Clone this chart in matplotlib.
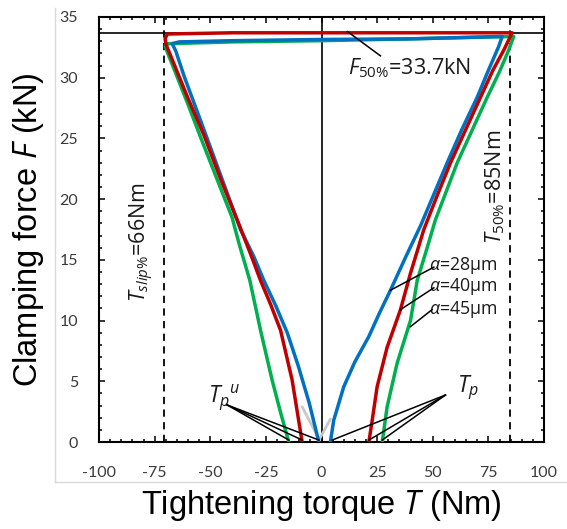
import matplotlib
matplotlib.use("Agg")
import matplotlib.pyplot as plt
from matplotlib.ticker import MultipleLocator
from matplotlib.lines import Line2D

plt.rcParams['mathtext.fontset'] = 'custom'
plt.rcParams['mathtext.rm'] = 'Open Sans'
plt.rcParams['mathtext.it'] = 'Open Sans:italic'
plt.rcParams['axes.unicode_minus'] = False

# ---------------- data ----------------
blue_T = [4.0, 5.5, 7.8, 10.0, 15.0, 21.3, 26.0, 31.0, 38.0, 44.5, 50.5, 56.5, 63.0, 70.0, 75.0, 79.7, 81.2,
          40, 0, -40, -64, -67.1, -65.5, -61.5, -53, -45, -36.4, -30.5, -25.9, -20.5, -15.4, -10.5, -5.5, -1.2]
blue_F = [0, 1.8, 3.2, 4.55, 6.6, 8.7, 10.6, 12.5, 15.3, 17.8, 20.4, 23.0, 25.7, 28.4, 30.6, 32.6, 33.4,
          33.2, 33.15, 33.05, 32.95, 32.8, 32.2, 30.0, 25.8, 21.8, 17.5, 15.3, 13.3, 11.2, 9.0, 6.3, 3.2, 0]

red_T = [21.3, 22.8, 25.0, 29.5, 35.5, 40.0, 46.0, 52.0, 58.0, 65.0, 71.5, 77.0, 82.0, 85.7,
         40, 0, -40, -69.3, -70.3, -69.8, -66, -60, -52.9, -45, -37.9, -31.5, -27.4, -22.8, -18.4, -13.2, -8.7]
red_F = [0, 1.8, 4.55, 7.8, 10.9, 13.9, 17.5, 20.3, 23.0, 25.8, 28.4, 30.6, 32.3, 33.7,
         33.7, 33.7, 33.7, 33.6, 33.2, 32.7, 31.0, 28.3, 25.3, 21.5, 18.3, 15.3, 13.3, 11.3, 9.2, 5.1, 0]

green_T = [27.3, 29.5, 34.0, 40.0, 42.2, 43.0, 47.0, 51.2, 56.0, 61.0, 68.0, 74.5, 80.0, 84.2, 86.4,
           40, 0, -40, -69.0, -70.2, -69.5, -66, -60, -53.5, -46, -40.2, -37.0, -32.2, -27.4, -22.2, -18.5, -14.7]
green_F = [0, 2.9, 6.5, 10.0, 12.4, 13.3, 15.7, 18.3, 20.6, 23.0, 25.8, 28.4, 30.5, 32.3, 33.4,
           33.2, 33.05, 32.95, 32.8, 32.6, 32.2, 30.6, 27.8, 24.7, 21.2, 18.5, 16.3, 13.3, 9.2, 5.1, 2.5, 0]

gray_T = [-8.7, -1.0, 4.0]
gray_F = [2.9, 0.2, 1.9]

F50 = 33.7
T_slip_pos = -70.7
T_50_pos = 84.8

x_ticks = [-100, -75, -50, -25, 0, 25, 50, 75, 100]
y_ticks = [0, 5, 10, 15, 20, 25, 30, 35]

# ---------------- figure ----------------
fig = plt.figure(figsize=(5.67, 5.29), dpi=100)
ax = fig.add_axes([99/567, 1-442/529, (544-99)/567, (442-17)/529])

# light frame (plot area border)
fig.add_artist(Line2D([55/567, 55/567], [1-8/529, 1-482/529], color='#d9d9d9', lw=1))
fig.add_artist(Line2D([55/567, 1.0], [1-482/529, 1-482/529], color='#d9d9d9', lw=1))

ax.set_xlim(-100, 100)
ax.set_ylim(0, 35)

ax.axhline(F50, color='black', lw=1.2, zorder=2)
ax.axvline(0, color='black', lw=1.2, zorder=2)
ax.axvline(T_slip_pos, color='black', lw=1.3, ls=(0, (4, 3)), zorder=2)
ax.axvline(T_50_pos, color='black', lw=1.3, ls=(0, (4, 3)), zorder=2)

lw = 2.5
ax.plot(gray_T, gray_F, color='#c8c8c8', lw=2.0, zorder=3, solid_capstyle='round')
ax.plot(green_T, green_F, color='#00B050', lw=lw, zorder=4, solid_joinstyle='round')
ax.plot(blue_T, blue_F, color='#0070C0', lw=lw, zorder=5, solid_joinstyle='round')
ax.plot(red_T, red_F, color='#C00000', lw=lw, zorder=6, solid_joinstyle='round')

# ticks
ax.set_xticks(x_ticks)
ax.set_yticks(y_ticks)
ax.xaxis.set_minor_locator(MultipleLocator(5))
ax.yaxis.set_minor_locator(MultipleLocator(1))
ax.tick_params(which='both', direction='in', top=True, right=True, width=1.1, color='black')
ax.tick_params(which='major', length=4.5)
ax.tick_params(which='minor', length=2.3)
ax.tick_params(axis='x', which='major', pad=17, labelsize=11.5, labelcolor='#3a3a3a')
ax.tick_params(axis='y', which='major', pad=15, labelsize=11.5, labelcolor='#3a3a3a')
for lab in ax.get_xticklabels() + ax.get_yticklabels():
    lab.set_fontfamily('Lato')
for s in ax.spines.values():
    s.set_linewidth(1.5)

ax.set_xlabel('Tightening torque $T$ (Nm)', fontsize=23.5, family='Liberation Sans', labelpad=6)
ax.set_ylabel('Clamping force $F$ (kN)', fontsize=23.5, family='Liberation Sans', labelpad=10)

# annotations
tf = dict(family='Open Sans', color='#1a1a1a')
ax.text(11.7, 30.3, r'$F_{50\%}$=33.7kN', fontsize=15.5, ha='left', va='baseline', **tf)
ax.plot([11.7, 26.5], [33.8, 31.8], color='black', lw=1.1, zorder=7)

ax.text(-80.9, 16.5, r'$T_{slip\%}$=66Nm', fontsize=15.5, rotation=90, ha='center', va='center', **tf)
ax.text(78.2, 21.0, r'$T_{50\%}$=85Nm', fontsize=15.5, rotation=90, ha='center', va='center', **tf)

alpha_labels = [r'$\alpha$=28μm', r'$\alpha$=40μm', r'$\alpha$=45μm']
alpha_base = [14.2, 12.4, 10.5]
alpha_lines = [((50.5, 14.4), (31.0, 12.5)), ((50.5, 12.7), (35.5, 10.9)), ((49.7, 10.9), (40.0, 9.5))]
for lab, yb, (p0, p1) in zip(alpha_labels, alpha_base, alpha_lines):
    ax.text(48.2, yb, lab, fontsize=12.8, ha='left', va='baseline', **tf)
    ax.plot([p0[0], p1[0]], [p0[1], p1[1]], color='black', lw=1.1, zorder=7)

ax.text(-50.8, 3.3, r'${T_p}^u$', fontsize=16.5, ha='left', va='baseline', **tf)
ax.text(61.1, 4.1, r'$T_p$', fontsize=16.5, ha='left', va='baseline', **tf)
for xe in [-14.7, -8.7, -1.2]:
    ax.plot([-42.4, xe], [3.05, 0.16], color='black', lw=1.1, zorder=7)
for xe in [4.8, 21.3, 27.3]:
    ax.plot([55.7, xe], [3.87, 0.16], color='black', lw=1.1, zorder=7)

fig.savefig('out.png', dpi=100)
